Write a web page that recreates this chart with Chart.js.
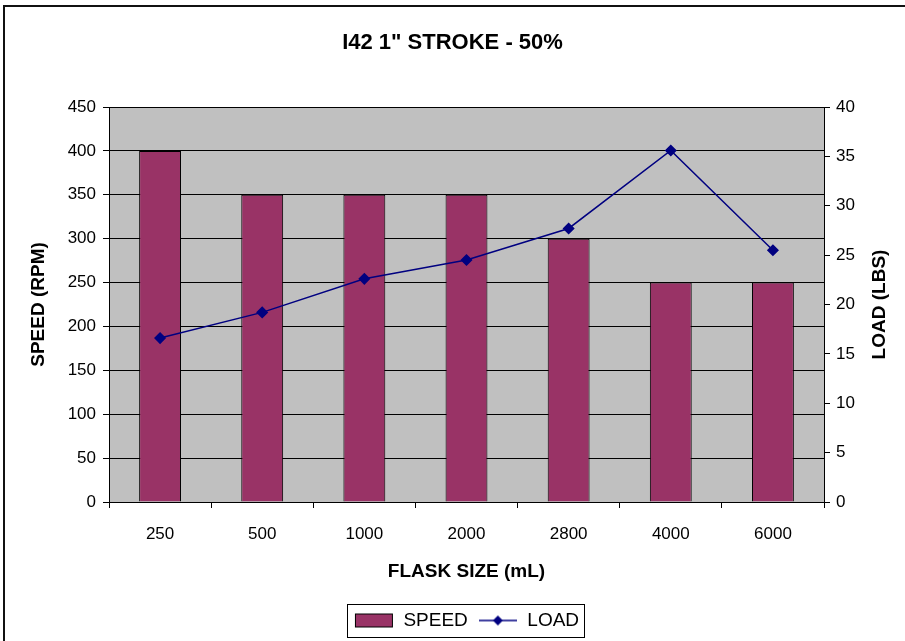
<!DOCTYPE html>
<html>
<head>
<meta charset="utf-8">
<title>I42 1" STROKE - 50%</title>
<script src="https://cdn.jsdelivr.net/npm/chart.js@4.4.1/dist/chart.umd.min.js"></script>
<style>
  html, body { margin: 0; padding: 0; background: #fff; }
  #wrap { position: relative; width: 905px; height: 641px; overflow: hidden; }
  #frame { position: absolute; left: 3px; top: 5px; right: -10px; bottom: -10px;
           border-left: 2px solid #111; border-top: 2px solid #111; pointer-events: none; }
  canvas { position: absolute; left: 0; top: 0; }
</style>
</head>
<body>
<div id="wrap">
  <canvas id="chart" width="905" height="641"></canvas>
  <div id="frame"></div>
</div>
<script>
const flaskSizes = ['250', '500', '1000', '2000', '2800', '4000', '6000'];
const speedRpm = [400, 350, 350, 350, 300, 250, 250];
const loadLbs = [16.6, 19.2, 22.6, 24.5, 27.7, 35.6, 25.5];

const FONT = 'Arial, "Liberation Sans", sans-serif';
const BAR_COLOR = '#993366';
const LINE_COLOR = '#000080';

// small swatches for the legend
function speedSwatch() {
  const c = document.createElement('canvas');
  c.width = 40; c.height = 16;
  const g = c.getContext('2d');
  g.fillStyle = BAR_COLOR;
  g.fillRect(1, 1, 38, 14);
  g.strokeStyle = '#000';
  g.lineWidth = 1;
  g.strokeRect(1.5, 1.5, 37, 13);
  return c;
}
function loadSwatch() {
  const c = document.createElement('canvas');
  c.width = 38; c.height = 14;
  const g = c.getContext('2d');
  g.strokeStyle = LINE_COLOR;
  g.lineWidth = 1.5;
  g.beginPath(); g.moveTo(0, 7); g.lineTo(38, 7); g.stroke();
  g.fillStyle = LINE_COLOR;
  g.beginPath(); g.moveTo(19, 2); g.lineTo(24, 7); g.lineTo(19, 12); g.lineTo(14, 7); g.closePath(); g.fill();
  return c;
}
const swatches = [speedSwatch(), loadSwatch()];

const plotBackground = {
  id: 'plotBackground',
  beforeDraw(chart) {
    const { ctx, chartArea: a } = chart;
    ctx.save();
    ctx.fillStyle = '#c0c0c0';
    ctx.fillRect(a.left, a.top, a.right - a.left, a.bottom - a.top);
    ctx.restore();
  }
};

// right axis title reads bottom-to-top, plus a frame round the legend
const extras = {
  id: 'extras',
  afterDraw(chart) {
    const { ctx, chartArea: a } = chart;
    const t = chart.options.scales.y1.title;
    ctx.save();
    ctx.fillStyle = '#000';
    ctx.font = 'bold 19px ' + FONT;
    ctx.textAlign = 'center';
    ctx.textBaseline = 'middle';
    ctx.translate(880, (a.top + a.bottom) / 2);
    ctx.rotate(-Math.PI / 2);
    ctx.fillText(t.text, 0, 0);
    ctx.restore();

    const boxes = chart.legend.legendHitBoxes;
    if (!boxes || !boxes.length) return;
    const left = Math.min(...boxes.map(b => b.left));
    const right = Math.max(...boxes.map(b => b.left + b.width));
    const top = boxes[0].top;
    const h = boxes[0].height;
    ctx.save();
    ctx.strokeStyle = '#000';
    ctx.lineWidth = 1;
    ctx.strokeRect(Math.round(left - 7) + 0.5, Math.round(top - 7) + 0.5, Math.round(right - left + 12), Math.round(h + 14));
    ctx.restore();
  }
};

new Chart(document.getElementById('chart'), {
  type: 'bar',
  data: {
    labels: flaskSizes,
    datasets: [
      {
        label: 'SPEED', data: speedRpm, yAxisID: 'y', order: 1,
        backgroundColor: BAR_COLOR, borderColor: '#000', borderWidth: 1,
        barPercentage: 0.41, categoryPercentage: 1.0
      },
      {
        type: 'line', label: 'LOAD', data: loadLbs, yAxisID: 'y1', order: 0,
        borderColor: LINE_COLOR, borderWidth: 1.5, backgroundColor: LINE_COLOR,
        pointStyle: 'rectRot', pointRadius: 5, pointBackgroundColor: LINE_COLOR,
        pointBorderColor: LINE_COLOR, tension: 0, fill: false
      }
    ]
  },
  options: {
    responsive: false,
    animation: false,
    layout: { padding: { left: 0, right: 0, top: 0, bottom: 1 } },
    plugins: {
      title: {
        display: true, text: 'I42 1" STROKE - 50%', color: '#000',
        font: { family: FONT, size: 22, weight: 'bold' },
        padding: { top: 30, bottom: 50.6 }
      },
      legend: {
        position: 'bottom', fullSize: false,
        labels: {
          color: '#000', font: { family: FONT, size: 19 },
          usePointStyle: true, pointStyleWidth: 40, padding: 10,
          generateLabels(chart) {
            return chart.data.datasets.map((ds, i) => ({
              text: ds.label, datasetIndex: i, pointStyle: swatches[i],
              fillStyle: 'transparent', strokeStyle: 'transparent', lineWidth: 0,
              hidden: false, fontColor: '#000'
            }));
          }
        }
      },
      tooltip: { enabled: false }
    },
    scales: {
      x: {
        offset: true,
        grid: { drawOnChartArea: false, offset: true, tickLength: 6, tickColor: '#000', color: '#000' },
        border: { color: '#000', width: 1 },
        ticks: { color: '#000', font: { family: FONT, size: 17 }, padding: 16 },
        title: {
          display: true, text: 'FLASK SIZE (mL)', color: '#000',
          font: { family: FONT, size: 19, weight: 'bold' }, padding: { top: 0, bottom: 18 }
        },
        afterFit(s) { s.height = 99; }
      },
      y: {
        position: 'left', min: 0, max: 450,
        ticks: { stepSize: 50, color: '#000', font: { family: FONT, size: 17 }, padding: 7 },
        grid: { color: '#000', lineWidth: 1, tickLength: 6, tickColor: '#000' },
        border: { color: '#000', width: 1 },
        title: {
          display: true, text: 'SPEED (RPM)', color: '#000',
          font: { family: FONT, size: 19, weight: 'bold' }, padding: { top: 27, bottom: 0 }
        },
        afterFit(s) { s.width = 109; }
      },
      y1: {
        position: 'right', min: 0, max: 40,
        ticks: { stepSize: 5, color: '#000', font: { family: FONT, size: 17 }, padding: 6 },
        grid: { drawOnChartArea: false, tickLength: 6, tickColor: '#000' },
        border: { color: '#000', width: 1 },
        title: { display: false, text: 'LOAD (LBS)' },
        afterFit(s) { s.width = 81; }
      }
    }
  },
  plugins: [plotBackground, extras]
});
</script>
</body>
</html>
